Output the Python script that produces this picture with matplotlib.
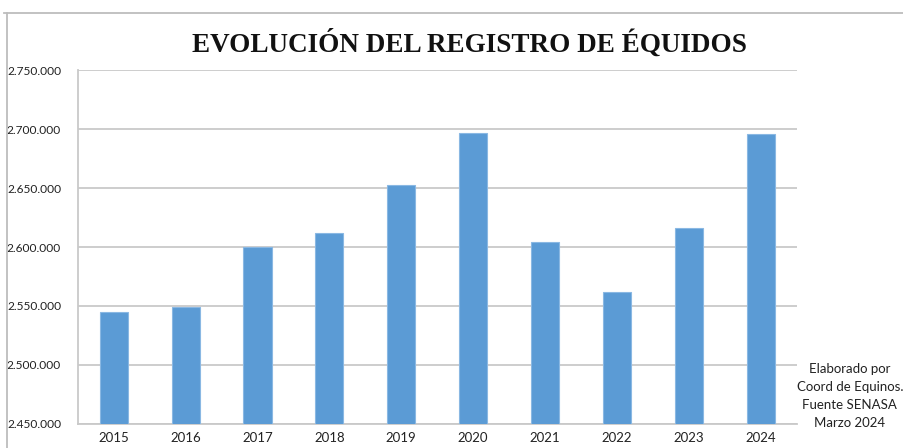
import matplotlib
matplotlib.use("Agg")
import matplotlib.pyplot as plt
from matplotlib.lines import Line2D
from matplotlib.ticker import FuncFormatter

# data
years = ["2015", "2016", "2017", "2018", "2019", "2020", "2021", "2022", "2023", "2024"]
registros = [2545300, 2549000, 2600000, 2612000, 2652600, 2696700, 2604000, 2561800, 2616000, 2696200]
y_ticks = [2450000, 2500000, 2550000, 2600000, 2650000, 2700000, 2750000]
title = "EVOLUCIÓN DEL REGISTRO DE ÉQUIDOS"
note = "Elaborado por\nCoord de Equinos.\nFuente SENASA\nMarzo 2024"

bar_color = "#5B9BD5"
grid_color = "#C9C9C9"

fig = plt.figure(figsize=(9.04, 4.48), dpi=100)
ax = fig.add_axes([0.086, 0.0536, 0.7953, 0.7901])

ax.bar(range(len(years)), registros, width=0.39, color=bar_color,
       edgecolor="#8AB8E3", linewidth=0.8, zorder=3)

ax.set_xlim(-0.5, len(years) - 0.5)
ax.set_ylim(y_ticks[0], y_ticks[-1])
ax.set_yticks(y_ticks)
ax.yaxis.set_major_formatter(FuncFormatter(lambda v, p: f"{int(v):,}".replace(",", ".")))
ax.set_xticks(range(len(years)))
ax.set_xticklabels(years)

ax.grid(axis="y", color=grid_color, linewidth=1.3, zorder=0)
for s in ["top", "right"]:
    ax.spines[s].set_visible(False)
for s in ["left", "bottom"]:
    ax.spines[s].set_color(grid_color)
    ax.spines[s].set_linewidth(1.3)

ax.tick_params(axis="y", length=0, labelsize=8.6, labelcolor="#222222", pad=12)
ax.tick_params(axis="x", length=0, labelsize=9.5, labelcolor="#222222", pad=6)
for lbl in ax.get_yticklabels() + ax.get_xticklabels():
    lbl.set_fontfamily("Lato")

fig.text(0.519, 0.902, title, ha="center", va="center", fontsize=19.5,
         fontweight="bold", family="Liberation Serif", color="#111111")

fig.text(0.999, 0.116, note, ha="right", va="center", multialignment="center",
         fontsize=9.5, family="Lato", color="#222222", linespacing=1.6)

# outer chart frame (cut off on the right and bottom)
fig.add_artist(Line2D([0.0045, 1.0], [0.971, 0.971], color="#BDBDBD", linewidth=1.3))
fig.add_artist(Line2D([0.0075, 0.0075], [0.0, 0.971], color="#BDBDBD", linewidth=1.3))

fig.savefig("out.png", dpi=100)
